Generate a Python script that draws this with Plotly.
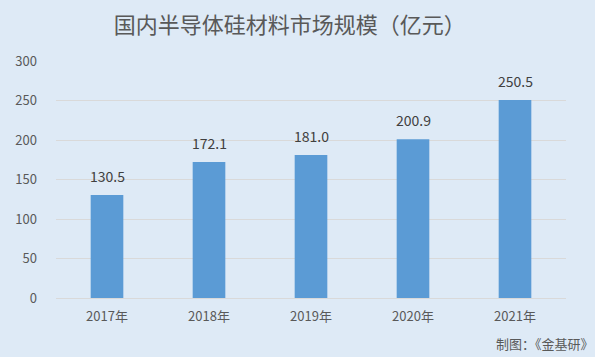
import plotly.graph_objects as go

categories = ["2017年", "2018年", "2019年", "2020年", "2021年"]
values = [130.5, 172.1, 181.0, 200.9, 250.5]
labels = ["130.5", "172.1", "181.0", "200.9", "250.5"]
y_ticks = [0, 50, 100, 150, 200, 250, 300]

bg = "#DEEAF6"
font_family = "Microsoft YaHei, Noto Sans CJK SC, sans-serif"

fig = go.Figure(go.Bar(
    x=categories, y=values,
    marker=dict(color="#5B9BD5", line=dict(width=0)),
    width=0.32,
    hoverinfo="skip",
))

label_annotations = [
    dict(x=c, y=v, text=t, xref="x", yref="y", showarrow=False,
         yanchor="bottom", yshift=7,
         font=dict(size=14, color="#404040", family=font_family))
    for c, v, t in zip(categories, values, labels)
]

fig.update_layout(
    width=595, height=357,
    paper_bgcolor=bg, plot_bgcolor=bg,
    margin=dict(l=56, r=29, t=61, b=59),
    title=dict(text="国内半导体硅材料市场规模（亿元）", x=0.487, xanchor="center",
               y=0.93, yanchor="middle",
               font=dict(size=22, color="#595959", family=font_family)),
    showlegend=False,
    xaxis=dict(showgrid=False, showline=True, linecolor="#D9D9D9", linewidth=1,
               ticks="", ticklabelstandoff=6,
               tickfont=dict(size=13, color="#595959", family=font_family)),
    yaxis=dict(range=[0, 300], tickvals=y_ticks, showgrid=True, gridcolor="#D9D9D9",
               gridwidth=1, zeroline=False, showline=False, ticks="",
               ticklabelstandoff=18,
               tickfont=dict(size=13, color="#595959", family=font_family)),
    annotations=label_annotations + [
        dict(text="制图：《金基研》", xref="paper", yref="paper",
             x=1.059, y=-0.194, xanchor="right", yanchor="middle",
             showarrow=False,
             font=dict(size=13, color="#595959", family=font_family))],
)

fig.write_html("out.html", config={"displayModeBar": False},
               post_script="document.body.style.margin='0';")
